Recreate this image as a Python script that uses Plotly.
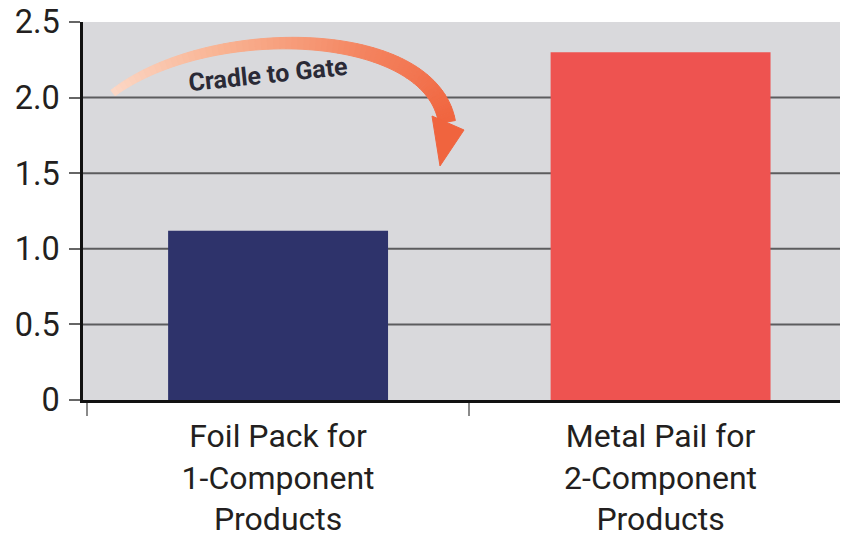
import numpy as np
import plotly.graph_objects as go

# ---- data ----
categories = ["Foil Pack for<br>1-Component<br>Products", "Metal Pail for<br>2-Component<br>Products"]
values = [1.12, 2.30]
bar_colors = ["#2e336b", "#ee5350"]
y_tick_vals = [0, 0.5, 1.0, 1.5, 2.0, 2.5]
y_tick_text = ["0", "0.5", "1.0", "1.5", "2.0", "2.5"]
grid_vals = [0.5, 1.0, 1.5, 2.0]
arrow_label = "Cradle to Gate"

# page body has an 8px default margin; compensate
OFF = 8
W, H = 848 - OFF, 543 - OFF
# plot area in screen pixels
L, R, T, B = 83, 848, 22, 400


def px2x(px):
    return (px - L) / (R - L)


def py2y(py):
    return (B - py) / (B - T)


fig = go.Figure()
fig.add_trace(go.Bar(x=categories, y=values, marker=dict(color=bar_colors, line=dict(width=0)),
                     hoverinfo="skip"))

shapes = []
# gridlines (below bars)
for g in grid_vals:
    shapes.append(dict(type="line", xref="paper", yref="y", x0=0, x1=1, y0=g, y1=g,
                       line=dict(color="#5c5c5e", width=2), layer="below"))

# ---- curved gradient arrow (decoration), in screen pixels ----
P0 = np.array([113.0, 93.0])
P1 = np.array([210.0, 20.0])
P2 = np.array([430.0, 25.0])
P3 = np.array([447.0, 122.0])
N = 70
ts = np.linspace(0, 1, N + 1)


def bez(t):
    t = t[:, None]
    return ((1 - t) ** 3) * P0 + 3 * t * (1 - t) ** 2 * P1 + 3 * t ** 2 * (1 - t) * P2 + t ** 3 * P3


def dbez(t):
    t = t[:, None]
    return 3 * (1 - t) ** 2 * (P1 - P0) + 6 * (1 - t) * t * (P2 - P1) + 3 * t ** 2 * (P3 - P2)


pts = bez(ts)
d = dbez(ts)
d = d / np.linalg.norm(d, axis=1)[:, None]
nrm = np.stack([-d[:, 1], d[:, 0]], axis=1)
wid = 7 + 10 * ts
left = pts + nrm * (wid[:, None] / 2)
right = pts - nrm * (wid[:, None] / 2)

stops_t = [0.0, 0.3, 0.65, 1.0]
stops_c = [(252, 216, 198), (249, 178, 145), (244, 130, 94), (240, 100, 62)]


def col(t):
    for i in range(len(stops_t) - 1):
        if t <= stops_t[i + 1]:
            f = (t - stops_t[i]) / (stops_t[i + 1] - stops_t[i])
            c = [int(round(a + (b - a) * f)) for a, b in zip(stops_c[i], stops_c[i + 1])]
            return "rgb(%d,%d,%d)" % tuple(c)
    return "rgb(%d,%d,%d)" % stops_c[-1]


for i in range(N):
    quad = [left[i], left[i + 1], right[i + 1], right[i]]
    path = "M " + " L ".join("%.5f,%.5f" % (px2x(p[0]), py2y(p[1])) for p in quad) + " Z"
    c = col((ts[i] + ts[i + 1]) / 2)
    shapes.append(dict(type="path", xref="paper", yref="paper", path=path,
                       fillcolor=c, line=dict(color=c, width=1), layer="above"))

head = [(432.0, 116.0), (464.0, 130.0), (440.0, 166.0)]
path = "M " + " L ".join("%.5f,%.5f" % (px2x(p[0]), py2y(p[1])) for p in head) + " Z"
shapes.append(dict(type="path", xref="paper", yref="paper", path=path,
                   fillcolor="rgb(240,100,62)", line=dict(color="rgb(240,100,62)", width=1),
                   layer="above"))

fig.update_layout(
    width=W, height=H,
    margin=dict(l=L - OFF, r=848 - R, t=T - OFF, b=543 - B, pad=0, autoexpand=False),
    paper_bgcolor="white",
    plot_bgcolor="#d9d9dc",
    showlegend=False,
    bargap=0.425,
    shapes=shapes,
    font=dict(family="Roboto, Arial, sans-serif", color="#231f20"),
    annotations=[dict(text="<b>" + arrow_label + "</b>", xref="paper", yref="paper",
                      x=px2x(268), y=py2y(74), xanchor="center", yanchor="middle",
                      showarrow=False, textangle=-6,
                      font=dict(family="Roboto, Arial, sans-serif", size=25, color="#2a2a36"))],
)

fig.update_xaxes(type="category", range=[-0.51, 1.49], tickson="boundaries",
                 ticks="outside", ticklen=13, tickwidth=1.5, tickcolor="#8a8a8a",
                 showgrid=False, zeroline=False, automargin=False,
                 showline=True, linecolor="#111111", linewidth=2.5,
                 ticklabelstandoff=6,
                 tickfont=dict(family="Roboto, Arial, sans-serif", size=32, color="#231f20"))
fig.update_yaxes(range=[0, 2.5], tickvals=y_tick_vals, ticktext=y_tick_text,
                 ticks="outside", ticklen=11, tickwidth=1.5, tickcolor="#666666",
                 showgrid=False, zeroline=False, automargin=False,
                 showline=True, linecolor="#111111", linewidth=2.5,
                 ticklabelstandoff=3, ticklabeloverflow="allow",
                 tickfont=dict(family="Roboto, Arial, sans-serif", size=32.5, color="#231f20"))

fig.write_html("out.html")
